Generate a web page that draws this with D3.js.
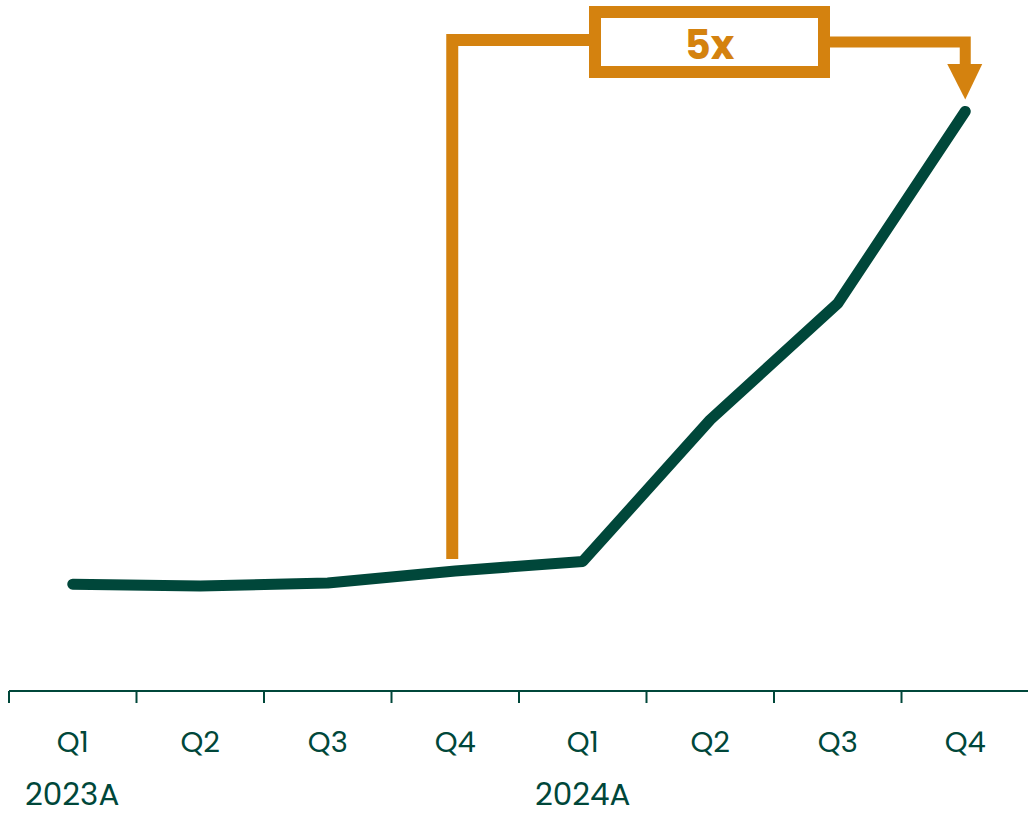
<!DOCTYPE html>
<html>
<head>
<meta charset="utf-8">
<script src="https://cdn.jsdelivr.net/npm/d3@7"></script>
<style>
  html, body { margin: 0; padding: 0; background: #fff; }
  svg { display: block; }
  text { font-family: "Poppins", Inter, "Noto Sans", sans-serif; }
</style>
</head>
<body>
<svg id="chart" width="1028" height="814"></svg>
<script>
// Quarterly index (Q4 2023 = 1.0)
const quarters = ["Q1", "Q2", "Q3", "Q4", "Q1", "Q2", "Q3", "Q4"];
const years = ["2023A", "2024A"];
const values = [0.89, 0.875, 0.90, 1.0, 1.08, 2.26, 3.23, 4.83];
const multipleLabel = "5x";

const green = "#00473A";
const orange = "#D4820F";

const svg = d3.select("#chart");
const keys = quarters.map((q, i) => i);

const x = d3.scaleBand().domain(keys).range([9, 1029]).padding(0);
const y = d3.scaleLinear().domain([0, 5]).range([691, 91]);
const cx = i => x(i) + x.bandwidth() / 2;

// Axis baseline with ticks at quarter boundaries
const g = svg.append("g");
g.append("line")
  .attr("x1", x.range()[0]).attr("x2", x.range()[1])
  .attr("y1", y(0)).attr("y2", y(0))
  .attr("stroke", green).attr("stroke-width", 2);
const bounds = keys.map(k => x(k));
g.selectAll("line.tick").data(bounds).join("line")
  .attr("class", "tick")
  .attr("x1", d => d).attr("x2", d => d)
  .attr("y1", y(0)).attr("y2", y(0) + 12)
  .attr("stroke", green).attr("stroke-width", 2);

g.selectAll("text.q").data(quarters).join("text")
  .attr("class", "q")
  .attr("x", (d, i) => cx(i))
  .attr("y", 752)
  .attr("text-anchor", "middle")
  .attr("fill", green)
  .attr("font-size", 29)
  .text(d => d);

g.selectAll("text.yr").data(years).join("text")
  .attr("class", "yr")
  .attr("x", (d, i) => x(i * 4) + 16)
  .attr("y", 805)
  .attr("fill", green)
  .attr("font-size", 31)
  .text(d => d);

// Series line
const line = d3.line().x((d, i) => cx(i)).y(d => y(d));
svg.append("path")
  .datum(values)
  .attr("d", line)
  .attr("fill", "none")
  .attr("stroke", green)
  .attr("stroke-width", 11)
  .attr("stroke-linecap", "round")
  .attr("stroke-linejoin", "round");

// Growth annotation: from Q4 2023 to Q4 2024
const a = svg.append("g");
const xs = cx(3) - 3;
const xe = cx(7);
const topY = 40;
const startY = y(values[3]) - 12;
const boxX0 = 595, boxX1 = 824, boxY0 = 12, boxY1 = 72;

a.append("path")
  .attr("d", `M${xs},${startY} V${topY} H${boxX0}`)
  .attr("fill", "none").attr("stroke", orange).attr("stroke-width", 12);
a.append("path")
  .attr("d", `M${boxX1},${topY + 2} H${xe} V66`)
  .attr("fill", "none").attr("stroke", orange).attr("stroke-width", 11);
a.append("path")
  .attr("d", `M${xe - 18},64 L${xe + 17},64 L${xe},${y(values[7]) - 12} Z`)
  .attr("fill", orange);
a.append("rect")
  .attr("x", boxX0).attr("y", boxY0)
  .attr("width", boxX1 - boxX0).attr("height", boxY1 - boxY0)
  .attr("fill", "#fff").attr("stroke", orange).attr("stroke-width", 12);
a.append("text")
  .attr("x", (boxX0 + boxX1) / 2)
  .attr("y", 59)
  .attr("text-anchor", "middle")
  .attr("fill", orange)
  .attr("font-size", 40)
  .attr("font-weight", 700)
  .text(multipleLabel);
</script>
</body>
</html>
